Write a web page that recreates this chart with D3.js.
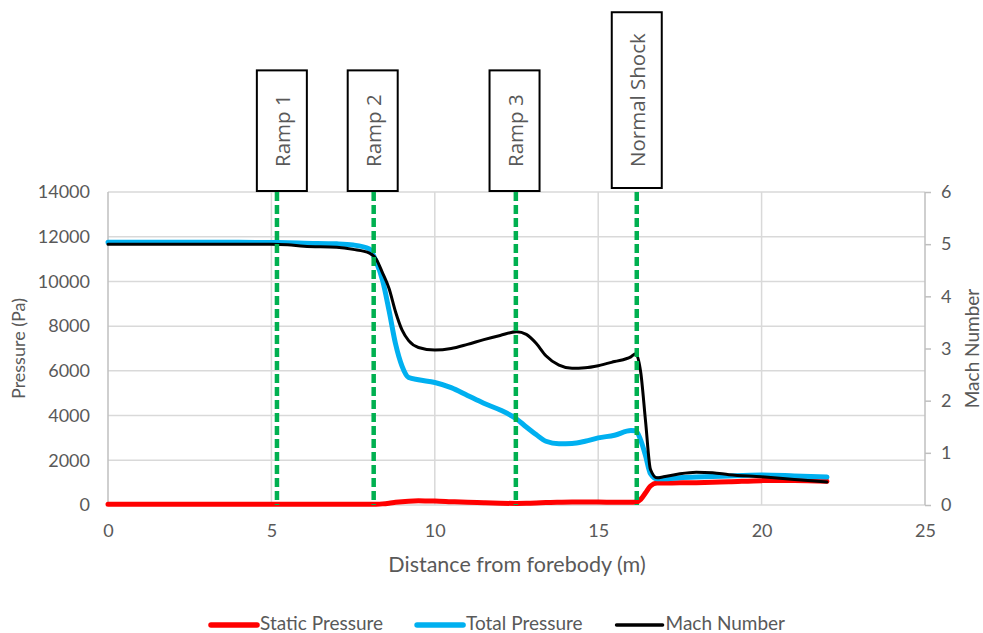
<!DOCTYPE html>
<html>
<head>
<meta charset="utf-8">
<script src="https://cdn.jsdelivr.net/npm/d3@7"></script>
<style>
  body { margin: 0; background: #fff; }
  svg { display: block; }
  text { font-family: Lato, 'Open Sans', sans-serif; fill: #595959; }
</style>
</head>
<body>
<div class="svg-container"></div>
<script>
// distance from forebody (m), shared by the three series
const distance = [0, 1, 2, 3, 4, 5, 5.5, 6, 7, 7.5, 8, 8.2, 8.4, 8.6, 8.8, 9.0, 9.2, 9.5, 10, 10.5, 11, 11.5, 12, 12.5, 12.8, 13.1, 13.4, 13.8, 14.2, 14.6, 15, 15.5, 16, 16.15, 16.3, 16.45, 16.6, 16.8, 17, 17.5, 18, 18.5, 19, 20, 21, 22]
const staticPressure = [30, 30, 30, 30, 30, 30, 30, 30, 30, 30, 30, 35, 50, 80, 120, 150, 170, 185, 180, 150, 120, 100, 80, 70, 75, 90, 110, 125, 135, 135, 130, 125, 120, 130, 250, 550, 850, 980, 985, 990, 1000, 1020, 1040, 1090, 1100, 1060]
const totalPressure = [11750, 11750, 11750, 11750, 11750, 11740, 11730, 11710, 11680, 11630, 11450, 10900, 10060, 8700, 7200, 6200, 5700, 5600, 5480, 5250, 4900, 4550, 4250, 3850, 3490, 3150, 2850, 2740, 2750, 2850, 3000, 3120, 3330, 3320, 2900, 2200, 1400, 1170, 1170, 1220, 1250, 1270, 1300, 1340, 1300, 1250]
const machNumber = [5.0, 5.0, 5.0, 5.0, 5.0, 5.0, 4.99, 4.96, 4.94, 4.9, 4.83, 4.72, 4.45, 4.15, 3.7, 3.35, 3.15, 3.02, 2.97, 3.0, 3.08, 3.17, 3.25, 3.32, 3.27, 3.1, 2.86, 2.68, 2.62, 2.63, 2.67, 2.75, 2.84, 2.9, 2.55, 1.6, 0.68, 0.52, 0.54, 0.6, 0.63, 0.62, 0.58, 0.54, 0.49, 0.44]

const seriesNames = ['Static Pressure', 'Total Pressure', 'Mach Number']
const seriesColors = ['#ff0000', '#00b0f0', '#000000']

const eventLabels = ['Ramp 1', 'Ramp 2', 'Ramp 3', 'Normal Shock']
const eventLines = [5.17, 8.13, 12.48, 16.18]
const eventBoxes = [5.32, 8.1, 12.44, 16.18]

const xTicks = [0, 5, 10, 15, 20, 25]
const pressureTicks = [0, 2000, 4000, 6000, 8000, 10000, 12000, 14000]
const machTicks = [0, 1, 2, 3, 4, 5, 6]

const width = 983
const height = 633
const margin = { top: 192, right: 58, bottom: 128, left: 108 }

const svg = d3.select('.svg-container')
  .append('svg')
  .attr('width', width)
  .attr('height', height)

const x = d3.scaleLinear().domain([0, 25]).range([margin.left, width - margin.right])
const yP = d3.scaleLinear().domain([0, 14000]).range([height - margin.bottom, margin.top])
const yM = d3.scaleLinear().domain([0, 6]).range([height - margin.bottom, margin.top])

// grid
svg.append('g')
  .selectAll('line')
  .data(pressureTicks)
  .join('line')
  .attr('x1', x(0)).attr('x2', x(25))
  .attr('y1', (d) => yP(d)).attr('y2', (d) => yP(d))
  .attr('stroke', '#d9d9d9').attr('stroke-width', 1.5)

svg.append('g')
  .selectAll('line')
  .data(xTicks)
  .join('line')
  .attr('x1', (d) => x(d)).attr('x2', (d) => x(d))
  .attr('y1', yP(0)).attr('y2', yP(14000))
  .attr('stroke', (d) => (d == 0 || d == 25 ? '#bfbfbf' : '#d9d9d9'))
  .attr('stroke-width', 1.5)

// axes
const fmt = d3.format('d')
const leftAxis = svg.append('g')
  .attr('transform', 'translate(' + x(0) + ',0)')
  .call(d3.axisLeft(yP).tickValues(pressureTicks).tickFormat(fmt).tickSize(0).tickPadding(18))
const rightAxis = svg.append('g')
  .attr('transform', 'translate(' + x(25) + ',0)')
  .call(d3.axisRight(yM).tickValues(machTicks).tickFormat(fmt).tickSize(6).tickPadding(10))
const bottomAxis = svg.append('g')
  .attr('transform', 'translate(0,' + yP(0) + ')')
  .call(d3.axisBottom(x).tickValues(xTicks).tickFormat(fmt).tickSize(0).tickPadding(19))

for (const ax of [leftAxis, rightAxis, bottomAxis]) {
  ax.select('.domain').remove()
  ax.selectAll('line').attr('stroke', '#bfbfbf').attr('stroke-width', 1.5)
  ax.selectAll('text').style('font-family', 'Lato, sans-serif').style('font-size', '18px').attr('fill', '#595959')
}

// axis titles
svg.append('text')
  .attr('transform', 'translate(25,' + (yP(7000)) + ') rotate(-90)')
  .attr('text-anchor', 'middle')
  .style('font-size', '18px')
  .text('Pressure (Pa)')
svg.append('text')
  .attr('transform', 'translate(979,' + (yM(3)) + ') rotate(-90)')
  .attr('text-anchor', 'middle')
  .style('font-size', '19px')
  .text('Mach Number')
svg.append('text')
  .attr('x', 517)
  .attr('y', 572)
  .attr('text-anchor', 'middle')
  .style('font-size', '21.5px')
  .text('Distance from forebody (m)')

// series
const seriesData = [staticPressure, totalPressure, machNumber]
const seriesScales = [yP, yP, yM]
const seriesWidths = [5, 5, 3]

seriesData.forEach((values, i) => {
  const line = d3.line()
    .x((d, j) => x(distance[j]))
    .y((d) => seriesScales[i](d))
    .curve(d3.curveMonotoneX)
  svg.append('path')
    .datum(values)
    .attr('d', line)
    .attr('fill', 'none')
    .attr('stroke', seriesColors[i])
    .attr('stroke-width', seriesWidths[i])
    .attr('stroke-linejoin', 'round')
    .attr('stroke-linecap', 'round')
})

// green event lines
svg.append('g')
  .selectAll('line')
  .data(eventLines)
  .join('line')
  .attr('x1', (d) => x(d)).attr('x2', (d) => x(d))
  .attr('y1', yP(14000)).attr('y2', yP(0))
  .attr('stroke', '#00b050')
  .attr('stroke-width', 4.5)
  .attr('stroke-dasharray', '9,4')

// event boxes
eventLabels.forEach((label, i) => {
  const g = svg.append('g')
  const cx = x(eventBoxes[i])
  const t = g.append('text')
    .style('font-family', "'Open Sans', sans-serif")
    .style('font-size', '20.5px')
    .attr('fill', '#000')
    .attr('text-anchor', 'middle')
    .attr('dominant-baseline', 'central')
    .text(label)
  const len = t.node().getComputedTextLength()
  const pad = label.length > 8 ? 21 : 24
  const bottom = label.length > 8 ? 188 : 191
  const top = bottom - len - 2 * pad
  g.insert('rect', 'text')
    .attr('x', cx - 25).attr('y', top)
    .attr('width', 50).attr('height', bottom - top)
    .attr('fill', '#fff')
    .attr('stroke', '#000')
    .attr('stroke-width', 2)
  t.attr('transform', 'translate(' + cx + ',' + (top + bottom) / 2 + ') rotate(-90)')
})

// legend
let lx = 211
const legend = svg.append('g')
seriesNames.forEach((name, i) => {
  legend.append('line')
    .attr('x1', lx).attr('x2', lx + 46)
    .attr('y1', 625).attr('y2', 625)
    .attr('stroke', seriesColors[i])
    .attr('stroke-width', seriesWidths[i] + 0.5)
    .attr('stroke-linecap', 'round')
  const t = legend.append('text')
    .attr('x', lx + 49)
    .attr('y', 630)
    .style('font-size', '19px')
    .text(name)
  lx += 49 + t.node().getComputedTextLength() + 34
})
</script>
</body>
</html>
